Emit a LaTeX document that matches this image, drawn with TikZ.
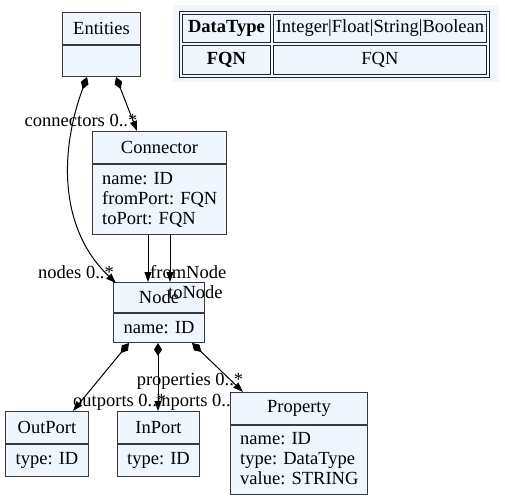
\documentclass[tikz,border=0pt]{standalone}
\usepackage{fontspec}
\setmainfont{Liberation Serif}
\usetikzlibrary{arrows.meta}
\definecolor{boxfill}{HTML}{EFF6FE}
\definecolor{boxline}{HTML}{3A3A3A}
\pgfdeclarelayer{behind}
\pgfsetlayers{behind,main}
\tikzset{
  hdr/.style={draw=boxline, fill=boxfill, line width=1pt, anchor=north west, inner sep=0pt, font=\fontsize{18.5}{20}\selectfont},
  bdy/.style={draw=boxline, fill=boxfill, line width=1pt, anchor=north, inner sep=0pt, font=\fontsize{18.5}{20}\selectfont},
  btxt/.style={anchor=west, inner sep=0pt, align=left, font=\fontsize{18.5}{20}\selectfont},
  cell/.style={draw=black!85, fill=boxfill, line width=0.9pt, inner sep=0pt, font=\fontsize{18.5}{20}\selectfont},
  lbl/.style={inner sep=0pt, font=\fontsize{18.5}{20}\selectfont},
  comp/.style={line width=1pt, {Diamond[length=13pt,width=8pt]}-{Triangle[length=10pt,width=7pt]}},
  assoc/.style={line width=1pt, -{Triangle[length=10pt,width=7pt]}}
}
\begin{document}
\begin{tikzpicture}[x=1pt,y=-1pt]
\useasboundingbox (0,0) rectangle (505,500);
% legend table
\fill[boxfill] (173,5) rectangle (499,82);
\node[cell, minimum width=310pt, minimum height=66pt, anchor=north west] (tbl) at (179,11) {};
\node[cell, minimum width=88pt, minimum height=28pt, anchor=north west, font=\fontsize{18.5}{20}\selectfont\bfseries] (c11) at (182,14) {DataType};
\node[cell, minimum width=213pt, minimum height=28pt, anchor=north west] (c12) at (273,14) {Integer|Float|String|Boolean};
\node[cell, minimum width=88pt, minimum height=29pt, anchor=north west, font=\fontsize{18.5}{20}\selectfont\bfseries] (c21) at (182,45) {FQN};
\node[cell, minimum width=213pt, minimum height=29pt, anchor=north west] (c22) at (273,45) {FQN};
% Entities
\node[hdr, minimum width=78pt, minimum height=32pt] (enth) at (62,12) {Entities};
\node[bdy, minimum width=78pt, minimum height=31pt] (entb) at (enth.south) {};
% Connector
\node[hdr, minimum width=134pt, minimum height=32pt] (conh) at (92,131) {Connector};
\node[bdy, minimum width=134pt, minimum height=70pt] (conb) at (conh.south) {};
\node[btxt] (cont) at ([xshift=10pt]conb.west) {name: ID\\fromPort: FQN\\toPort: FQN};
% Node
\node[hdr, minimum width=91pt, minimum height=30pt] (nodh) at (113,282) {Node};
\node[bdy, minimum width=91pt, minimum height=29pt] (nodb) at (nodh.south) {name: ID};
% OutPort
\node[hdr, minimum width=83pt, minimum height=32pt] (outh) at (5,411) {OutPort};
\node[bdy, minimum width=83pt, minimum height=32pt] (outb) at (outh.south) {type: ID};
% InPort
\node[hdr, minimum width=82pt, minimum height=32pt] (inh) at (117,411) {InPort};
\node[bdy, minimum width=82pt, minimum height=32pt] (inb) at (inh.south) {type: ID};
% Property
\node[hdr, minimum width=137pt, minimum height=32pt] (proph) at (230,392) {Property};
\node[bdy, minimum width=137pt, minimum height=69pt] (propb) at (proph.south) {};
\node[btxt] (propt) at ([xshift=10pt,yshift=1pt]propb.west) {name: ID\\type: DataType\\value: STRING};
% edges
\draw[comp] ([xshift=54pt]entb.south west) -- ([xshift=45pt]conh.north west);
\draw[comp] ([xshift=25pt]entb.south west) .. controls (60,150) and (58,228) .. ([xshift=3pt,yshift=-1pt]nodh.north west);
\draw[assoc] ([xshift=56pt]conb.south west) -- ([xshift=35pt]nodh.north west);
\draw[assoc] ([xshift=78pt]conb.south west) -- ([xshift=57pt]nodh.north west);
\draw[comp] ([xshift=16pt]nodb.south west) -- ([xshift=68pt]outh.north west);
\draw[comp] ([xshift=45pt]nodb.south west) -- ([xshift=41pt]inh.north west);
\draw[comp] ([xshift=79pt]nodb.south west) -- ([xshift=13pt]proph.north west);
% labels
\node[lbl] (lconn) at (81,120) {connectors 0..*};
\node[lbl] (lnodes) at (76,272) {nodes 0..*};
\node[lbl, anchor=west] (lfrom) at (150,272) {fromNode};
\node[lbl, anchor=west] (lto) at (168,292) {toNode};
\node[lbl] (lprop) at (190,381) {properties 0..*};
\node[lbl, anchor=west] (lout) at (73,402) {outports 0..*};
\begin{pgfonlayer}{behind}
\node[lbl, anchor=west] (lin) at (156,402) {inports 0..*};
\end{pgfonlayer}
\end{tikzpicture}
\end{document}
